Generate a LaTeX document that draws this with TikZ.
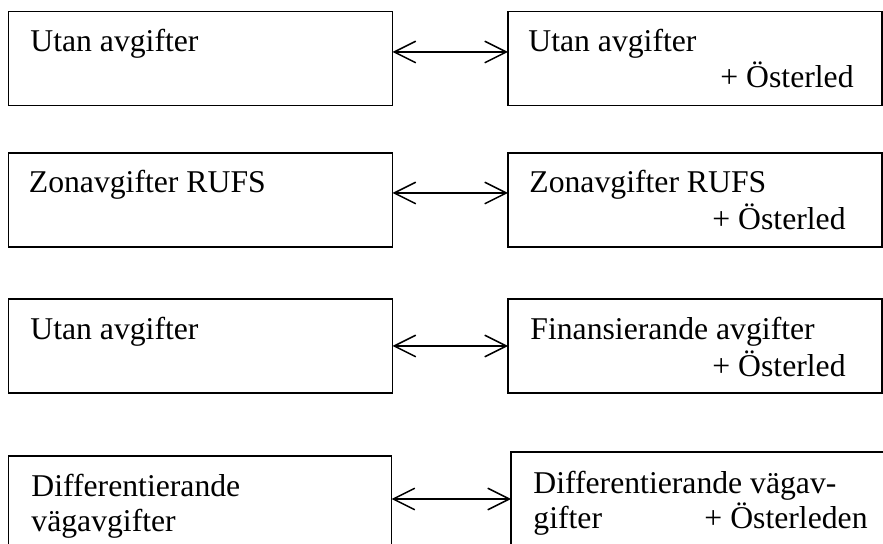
\documentclass[tikz,border=0pt]{standalone}
\usepackage{fontspec}
\setmainfont{Liberation Serif}
\usetikzlibrary{arrows.meta}
\tikzset{
  box/.style={draw,line width=0.8pt,inner sep=0pt,outer sep=0pt,anchor=north west},
  leftbox/.style={box,minimum width=192pt,minimum height=47pt},
  rightbox/.style={box,minimum width=187pt,minimum height=47pt},
  boxtext/.style={inner sep=0pt,anchor=base west,font=\fontsize{15.85pt}{17.5pt}\selectfont},
  boxtextR/.style={boxtext,anchor=base east},
  link/.style={{Straight Barb[length=10.8pt,width=10.8pt]}-{Straight Barb[length=10.8pt,width=10.8pt]},
               line width=0.75pt},
}

\begin{document}
\begin{tikzpicture}[x=0.5pt,y=-0.5pt]
  \useasboundingbox (0,0) rectangle (883,544);
  \clip (0,0) rectangle (883,544);

  \node[leftbox]  (left1)  at (8.5,11.5) {};
  \node[rightbox] (right1) at (508,11.5) {};
  \node[boxtext]  (left1a)  at ([shift={(21.5,40.5)}]left1.north west) {Utan avgifter};
  \node[boxtext]  (right1a) at ([shift={(20,40.5)}]right1.north west) {Utan avgifter};
  \node[boxtextR] (right1b) at ([shift={(-28,76.5)}]right1.north east) {+ Österled};
  \draw[link] ([yshift=3.25pt]left1.east) -- ([yshift=3.25pt]right1.west);

  \node[leftbox]  (left2)  at (8.5,153) {};
  \node[rightbox] (right2) at (508,153) {};
  \node[boxtext]  (left2a)  at ([shift={(20,40)}]left2.north west) {Zonavgifter RUFS};
  \node[boxtext]  (right2a) at ([shift={(21,40)}]right2.north west) {Zonavgifter RUFS};
  \node[boxtextR] (right2b) at ([shift={(-36,77)}]right2.north east) {+ Österled};
  \draw[link] ([yshift=3.5pt]left2.east) -- ([yshift=3.5pt]right2.west);

  \node[leftbox]  (left3)  at (8.5,299) {};
  \node[rightbox] (right3) at (508,299) {};
  \node[boxtext]  (left3a)  at ([shift={(21.5,41)}]left3.north west) {Utan avgifter};
  \node[boxtext]  (right3a) at ([shift={(22,41)}]right3.north west) {Finansierande avgifter};
  \node[boxtextR] (right3b) at ([shift={(-36,78)}]right3.north east) {+ Österled};
  \draw[link] (left3.east) -- (right3.west);

  \node[box,minimum width=191.5pt,minimum height=60pt] (left4)  at (8.5,456) {};
  \node[box,minimum width=190pt,minimum height=60pt]   (right4) at (511,452) {};
  \node[boxtext]  (left4a)  at ([shift={(22.5,41)}]left4.north west) {Differentierande};
  \node[boxtext]  (left4b)  at ([shift={(22.5,75)}]left4.north west) {vägavgifter};
  \node[boxtext]  (right4a) at ([shift={(22,42)}]right4.north west) {Differentierande vägav-};
  \node[boxtext]  (right4b) at ([shift={(22,77)}]right4.north west) {gifter};
  \node[boxtextR] (right4c) at ([shift={(357,77)}]right4.north west) {+ Österleden};
  \draw[link] ([yshift=8.5pt]left4.east) -- ([yshift=6.5pt]right4.west);
\end{tikzpicture}
\end{document}
